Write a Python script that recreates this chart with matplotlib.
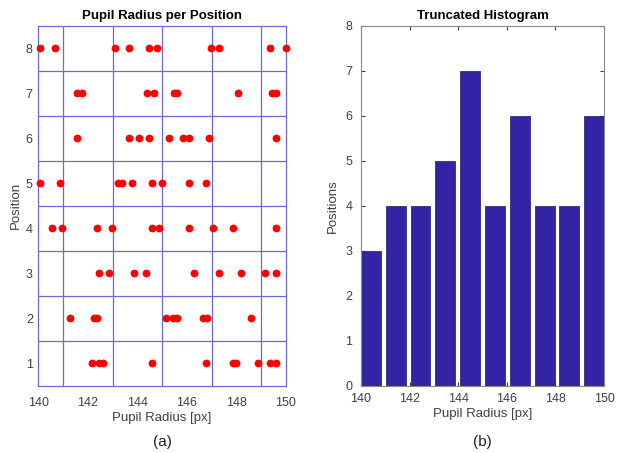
import matplotlib
matplotlib.use("Agg")
import matplotlib.pyplot as plt
import numpy as np

plt.rcParams["font.family"] = ["Liberation Sans", "DejaVu Sans"]

GRID_BLUE = "#6a6ad2"
BAR_BLUE = "#3324a6"
DOT_RED = "#ff0000"
TEXT_GREY = "#404040"

# pupil radius samples [px] for each position
pos1 = [142.17, 142.46, 142.60, 144.58, 146.77, 147.87, 147.98, 148.87, 149.35, 149.58]
pos2 = [141.28, 142.26, 142.36, 145.17, 145.45, 145.58, 146.64, 146.80, 148.57]
pos3 = [142.46, 142.87, 143.88, 144.36, 146.27, 147.28, 148.17, 149.17, 149.58]
pos4 = [140.57, 140.97, 142.37, 142.97, 144.58, 144.87, 146.08, 147.07, 147.87, 149.58]
pos5 = [140.07, 140.86, 143.23, 143.39, 143.78, 144.58, 144.98, 146.08, 146.77]
pos6 = [141.57, 143.66, 144.06, 144.47, 145.29, 145.86, 146.10, 146.88, 149.58]
pos7 = [141.55, 141.78, 144.37, 144.68, 145.47, 145.60, 148.08, 149.45, 149.60]
pos8 = [140.05, 140.67, 143.10, 143.66, 144.47, 144.78, 146.97, 147.28, 149.35, 150.00]
positions = [pos1, pos2, pos3, pos4, pos5, pos6, pos7, pos8]

# truncated histogram
bin_centers = [140.41, 141.43, 142.45, 143.47, 144.49, 145.51, 146.53, 147.55, 148.57, 149.59]
bin_counts = [3, 4, 4, 5, 7, 4, 6, 4, 4, 6]

fig = plt.figure(figsize=(6.19, 4.53), dpi=100)
ax1 = fig.add_axes([0.062, 0.148, 0.400, 0.795])
ax2 = fig.add_axes([0.583, 0.148, 0.393, 0.795])

# --- (a) scatter of radii per position ---
for k, vals in enumerate(positions, start=1):
    ax1.plot(vals, [k] * len(vals), "o", color=DOT_RED, ms=4.6,
             mec=DOT_RED, clip_on=False, zorder=3)
ax1.set_xlim(140, 150)
ax1.set_ylim(0.5, 8.5)
ax1.set_xticks(np.arange(140, 151, 2))
ax1.set_yticks(np.arange(1, 9))
ax1.set_xticks(np.arange(141, 150), minor=True)
ax1.set_yticks(np.arange(1.5, 8.5, 1), minor=True)
ax1.grid(which="minor", color=GRID_BLUE, lw=0.9)
ax1.tick_params(which="both", length=0)
ax1.tick_params(labelsize=9, colors=TEXT_GREY)
ax1.tick_params(axis="x", pad=8)
ax1.tick_params(axis="y", pad=4)
for sp in ax1.spines.values():
    sp.set_color(GRID_BLUE)
    sp.set_linewidth(0.9)
ax1.set_title("Pupil Radius per Position", fontsize=9.5, fontweight="bold", pad=5)
ax1.set_xlabel("Pupil Radius [px]", fontsize=9.5, color=TEXT_GREY, labelpad=2)
ax1.set_ylabel("Position", fontsize=9.5, color=TEXT_GREY, labelpad=3)
ax1.text(0.5, -0.155, "(a)", transform=ax1.transAxes, ha="center", va="center",
         fontsize=11, color="#202020")

# --- (b) histogram ---
ax2.bar(bin_centers, bin_counts, width=0.82, color=BAR_BLUE, edgecolor="#1e1470",
        lw=0.5, zorder=2)
ax2.set_xlim(140, 150)
ax2.set_ylim(0, 8)
ax2.set_xticks(np.arange(140, 151, 2))
ax2.set_yticks(np.arange(0, 9))
ax2.tick_params(direction="in", length=3, top=True, right=True,
                labelsize=9, colors=TEXT_GREY)
ax2.tick_params(axis="x", pad=5)
ax2.tick_params(axis="y", pad=6)
for sp in ax2.spines.values():
    sp.set_color("#8a8a8a")
    sp.set_linewidth(0.8)
ax2.set_title("Truncated Histogram", fontsize=9.5, fontweight="bold", pad=5)
ax2.set_xlabel("Pupil Radius [px]", fontsize=9.5, color=TEXT_GREY, labelpad=2)
ax2.set_ylabel("Positions", fontsize=9.5, color=TEXT_GREY, labelpad=5)
ax2.text(0.5, -0.155, "(b)", transform=ax2.transAxes, ha="center", va="center",
         fontsize=11, color="#202020")

fig.savefig("out.png", dpi=100, facecolor="white")
